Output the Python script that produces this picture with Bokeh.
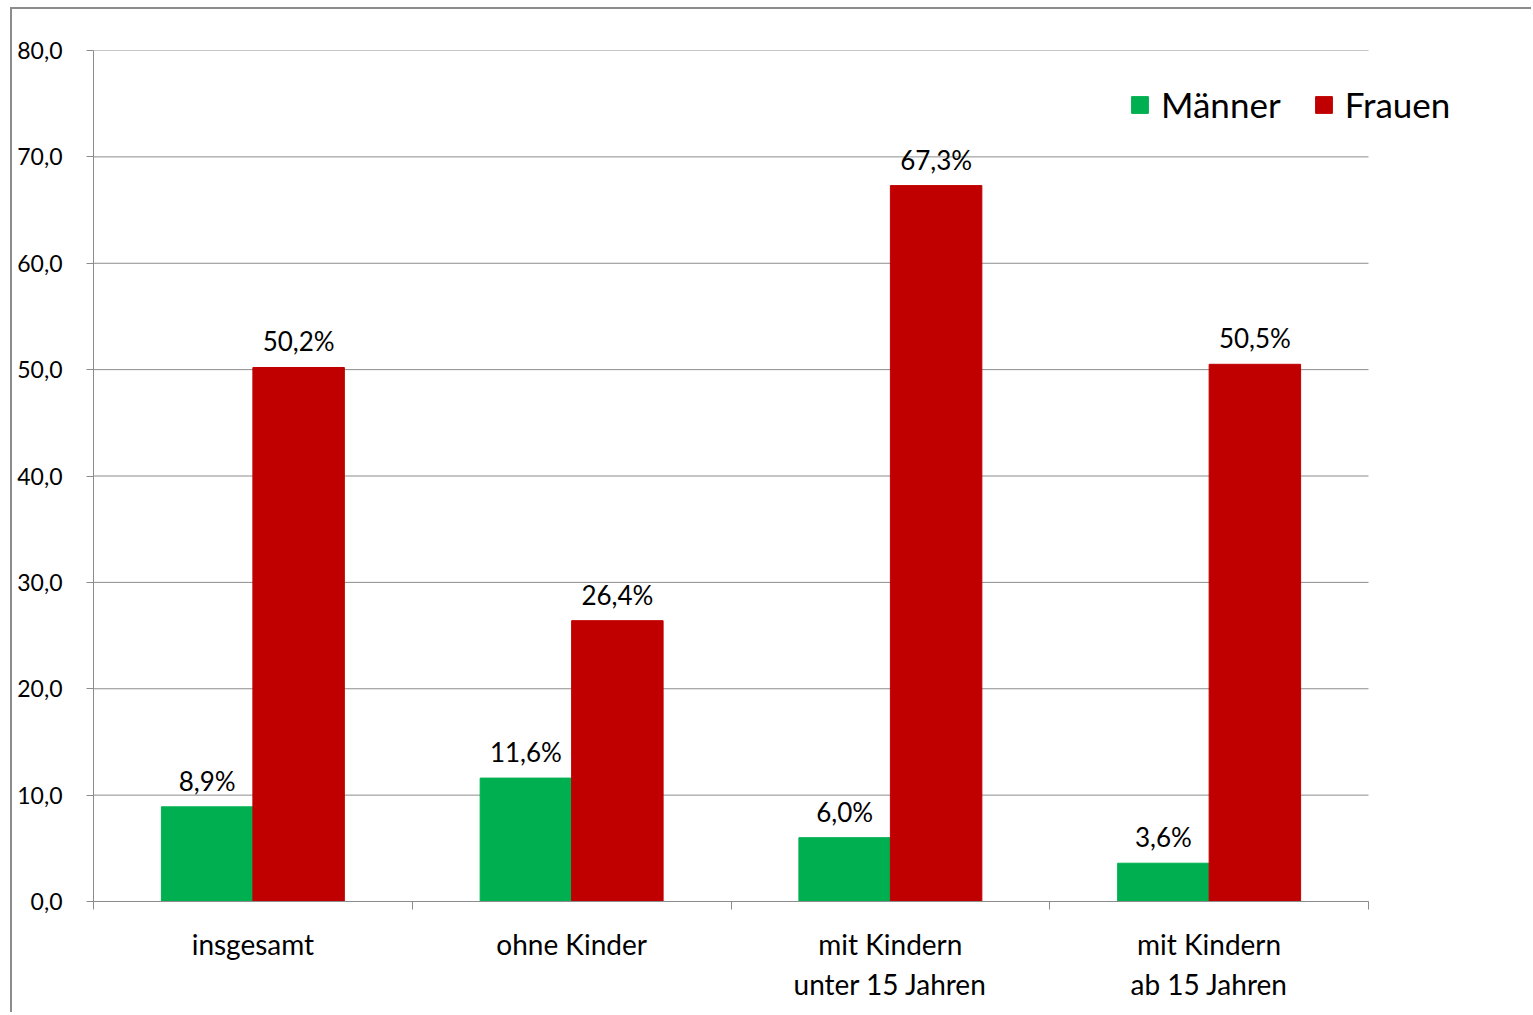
from bokeh.plotting import figure
from bokeh.models import (Range1d, FixedTicker, ColumnDataSource, LabelSet,
                          Legend, LegendItem)
from bokeh.core.properties import value
from bokeh.embed import file_html
from bokeh.resources import INLINE
import numpy as np

# Anteil Teilzeitbeschäftigter in %
categories = ["insgesamt", "ohne Kinder", "mit Kindern\nunter 15 Jahren",
              "mit Kindern\nab 15 Jahren"]
maenner = [8.9, 11.6, 6.0, 3.6]
frauen = [50.2, 26.4, 67.3, 50.5]
y_ticks = [0, 10, 20, 30, 40, 50, 60, 70, 80]

FONT = "Lato"
GREY = "#8c8c8c"
GREEN = "#00b050"
RED = "#c00000"


def fmt(v):
    return f"{v:.1f}".replace(".", ",")


n = len(categories)
idx = np.arange(n)
centers = idx + 0.5
bar_w = 0.287
x_m = centers - bar_w / 2
x_f = centers + bar_w / 2

src_m = ColumnDataSource(dict(x=x_m, y=maenner, lab=[fmt(v) + "%" for v in maenner]))
src_f = ColumnDataSource(dict(x=x_f, y=frauen, lab=[fmt(v) + "%" for v in frauen]))

# the frame runs on to the right edge so the legend has room beside the bars;
# axis and grid lines stop at the last category
FRAME_W = 1440
PLOT_W = 1275
x_end = n * FRAME_W / PLOT_W

p = figure(width=1521, height=1005, output_backend="svg", toolbar_location=None,
           x_range=Range1d(0, x_end), y_range=Range1d(0, 80),
           min_border_left=81, min_border_right=0, min_border_top=41,
           min_border_bottom=113)
p.margin = (7, 0, 0, 10)
p.styles = {"border-left": f"2px solid {GREY}", "border-top": f"2px solid {GREY}"}
p.outline_line_color = None
p.background_fill_color = "white"
p.border_fill_color = "white"

# horizontal grid lines
p.segment(x0=[0] * len(y_ticks), x1=[n] * len(y_ticks), y0=y_ticks, y1=y_ticks,
          line_color=GREY, line_width=1)

r_m = p.vbar(x="x", top="y", width=bar_w, source=src_m, fill_color=GREEN,
             line_color=GREEN)
r_f = p.vbar(x="x", top="y", width=bar_w, source=src_f, fill_color=RED,
             line_color=RED)

for s in (src_m, src_f):
    p.add_layout(LabelSet(x="x", y="y", text="lab", source=s, y_offset=10,
                          text_align="center", text_baseline="bottom",
                          text_font=value(FONT), text_font_size="26px",
                          text_color="black"))

# y axis
p.yaxis.ticker = FixedTicker(ticks=y_ticks)
p.yaxis.major_label_overrides = {t: fmt(t) for t in y_ticks}
p.yaxis.major_label_text_font = FONT
p.yaxis.major_label_text_font_size = "23px"
p.yaxis.major_label_text_color = "black"
p.yaxis.major_tick_out = 7
p.yaxis.major_tick_in = 0
p.yaxis.minor_tick_line_color = None
p.yaxis.axis_line_color = GREY
p.yaxis.major_tick_line_color = GREY
p.yaxis.major_label_standoff = 24

# x axis: labels at category centres, ticks between categories
p.xaxis.bounds = (0, n)
p.xaxis.ticker = FixedTicker(ticks=list(centers), minor_ticks=list(range(n + 1)))
p.xaxis.major_label_overrides = {float(c): lab for c, lab in zip(centers, categories)}
p.xaxis.major_label_text_font = FONT
p.xaxis.major_label_text_font_size = "28px"
p.xaxis.major_label_text_color = "black"
p.xaxis.major_tick_line_color = None
p.xaxis.minor_tick_out = 8
p.xaxis.minor_tick_in = 0
p.xaxis.minor_tick_line_color = GREY
p.xaxis.axis_line_color = GREY
p.xaxis.major_label_standoff = 17

p.xgrid.grid_line_color = None
p.ygrid.grid_line_color = None

legend = Legend(items=[LegendItem(label="Männer", renderers=[r_m]),
                       LegendItem(label="Frauen", renderers=[r_f])],
                orientation="horizontal", location=(1036, 776),
                label_text_font=FONT, label_text_font_size="35px",
                label_text_color="black", glyph_width=21, glyph_height=21,
                label_standoff=11, spacing=32, padding=0, margin=0,
                border_line_color=None, background_fill_alpha=0)
p.add_layout(legend, "center")

open("out.html", "w").write(file_html(p, INLINE))
